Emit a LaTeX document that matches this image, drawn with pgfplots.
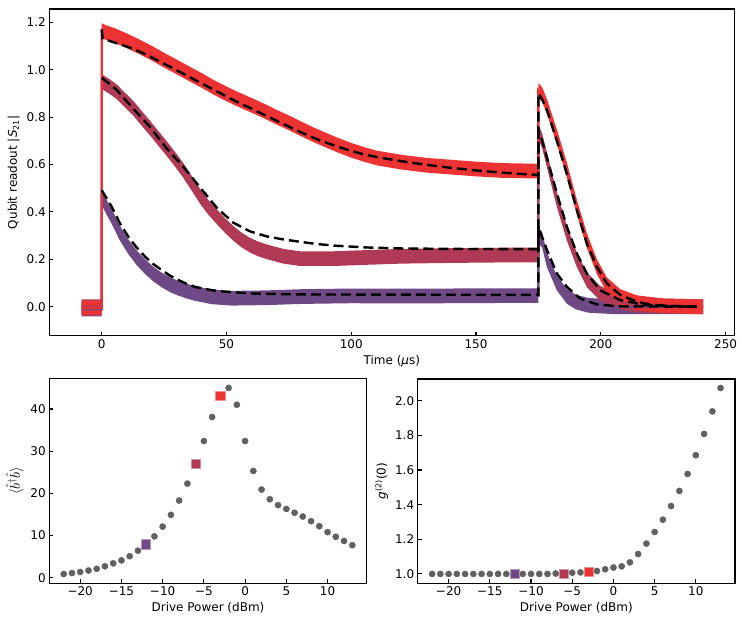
\documentclass[border=0pt]{standalone}
\usepackage{fontspec}
\setmainfont{DejaVu Sans}
\usepackage{pgfplots}
\pgfplotsset{compat=1.18}
\usepackage{pgfplotstable}
\usepgfplotslibrary{fillbetween}

\definecolor{cred}{RGB}{236,50,50}
\definecolor{ccrim}{RGB}{176,58,85}
\definecolor{cpurp}{RGB}{111,73,133}
\definecolor{cgray}{RGB}{96,96,96}

\pgfplotstableread{
t v
-8 -0.005
0 -0.005
0 1.165
2 1.155
5 1.145
10 1.122
15 1.097
20 1.07
25 1.04
30 1.012
35 0.983
40 0.955
45 0.925
50 0.898
55 0.873
60 0.850
65 0.826
70 0.800
75 0.776
80 0.750
85 0.725
90 0.702
95 0.680
100 0.660
105 0.643
110 0.628
120 0.610
130 0.597
140 0.589
150 0.581
160 0.575
175 0.572
175 0.912
176.5 0.895
178.4 0.845
182.4 0.717
186.4 0.577
190.4 0.420
194.4 0.280
198.4 0.170
202.4 0.093
207.8 0.043
214.5 0.017
225 0.004
241 0.0
}\redtab

\pgfplotstableread{
t v
-8 0.0
0 0.0
0 0.950
3 0.930
6 0.907
9 0.875
12.7 0.837
16 0.795
19.4 0.753
22.7 0.710
26 0.668
29.4 0.622
32.7 0.575
36 0.522
39.4 0.466
42.7 0.420
46.1 0.380
49.4 0.343
52.7 0.310
56 0.282
59.4 0.260
62.7 0.244
66.1 0.232
72.8 0.213
79.5 0.203
93 0.203
106 0.208
120 0.213
140 0.216
160 0.218
175 0.218
175 0.738
176.5 0.70
178.4 0.62
182.4 0.452
186.4 0.31
190.4 0.198
194.4 0.114
199.7 0.057
207.8 0.020
215 0.006
241 0.0
}\crimtab

\pgfplotstableread{
t v
-8 -0.01
0 -0.01
0 0.460
0.8 0.443
4 0.380
7.3 0.310
10.7 0.253
14 0.207
17.4 0.169
20.7 0.138
24 0.113
27.4 0.093
30.7 0.078
34 0.066
37.4 0.056
44.1 0.042
52 0.036
66 0.038
80 0.043
100 0.046
120 0.045
140 0.046
160 0.047
175 0.047
175 0.30
176.5 0.28
178.4 0.198
182.4 0.10
186.4 0.044
190 0.02
195 0.006
205 0.0
241 0.0
}\purptab

\pgfplotstableread{
t v
0 1.17
0.4 1.13
5 1.115
10 1.098
15 1.077
20 1.052
25 1.025
30 0.998
35 0.970
40 0.942
45 0.915
50 0.887
55 0.860
60 0.836
65 0.810
70 0.785
75 0.760
80 0.735
85 0.712
90 0.692
95 0.674
100 0.657
105 0.643
110 0.632
120 0.614
130 0.599
140 0.586
150 0.575
160 0.566
170 0.559
175 0.556
175 0.90
176.5 0.875
178.4 0.83
182.4 0.70
186.4 0.56
190.4 0.408
194.4 0.267
198.4 0.169
202.4 0.099
207.8 0.05
214.5 0.021
220 0.009
228 0.003
238.5 0.0
}\redfit

\pgfplotstableread{
t v
0 0.966
6 0.915
12.7 0.835
19.4 0.758
26 0.668
32.7 0.591
37.4 0.530
42 0.470
46.1 0.418
52.7 0.355
59.4 0.318
66.1 0.297
72.8 0.284
79.5 0.274
86 0.265
93 0.258
106.4 0.250
120 0.246
140 0.244
175 0.243
175 0.74
176.5 0.70
178.4 0.63
182.4 0.478
186.4 0.338
190.4 0.225
194.4 0.14
199.7 0.07
207.8 0.028
218 0.007
238.5 0.0
}\crimfit

\pgfplotstableread{
t v
0 0.492
4 0.422
7.3 0.352
10.7 0.295
14 0.250
17.4 0.211
20.7 0.180
24 0.155
27.4 0.131
30.7 0.113
34 0.097
37.4 0.084
44.1 0.070
48.8 0.064
60 0.056
80 0.052
175 0.050
175 0.338
178.4 0.24
182.4 0.14
186.4 0.084
191.7 0.035
198.4 0.01
207 0.002
238.5 0.0
}\purpfit

\pgfplotstableread{
p n
-22 0.87
-21 1.1
-20 1.35
-19 1.7
-18 2.1
-17 2.7
-16 3.4
-15 4.1
-14 5.1
-13 6.4
-12 7.9
-11 9.8
-10 12.1
-9 14.9
-8 18.3
-7 22.3
-6 27.0
-5 32.4
-4 38.1
-3 43.1
-2 45.0
-1 41.0
0 32.4
1 25.3
2 20.9
3 18.6
4 17.2
5 16.3
6 15.4
7 14.5
8 13.4
9 12.2
10 10.8
11 9.7
12 8.7
13 7.7
}\photon

\pgfplotstableread{
p g
-22 1.0
-21 1.0
-20 1.0
-19 1.0
-18 1.0
-17 1.0
-16 1.0
-15 1.0
-14 1.0
-13 1.0
-12 1.0
-11 1.0
-10 1.0
-9 1.0
-8 1.0
-7 1.002
-6 1.003
-5 1.007
-4 1.009
-3 1.012
-2 1.017
-1 1.027
0 1.037
1 1.044
2 1.067
3 1.115
4 1.175
5 1.242
6 1.313
7 1.392
8 1.479
9 1.577
10 1.685
11 1.808
12 1.938
13 2.073
}\gtwo

\pgfplotsset{
  mystyle/.style={
    scale only axis,
    axis line style={line width=1.4pt},
    tick pos=left,
    tick align=inside,
    major tick length=4pt,
    every tick/.style={line width=1.1pt, black},
    ticklabel style={font=\fontsize{12}{14}\selectfont},
    label style={font=\fontsize{12}{14}\selectfont},
    /pgf/number format/assume math mode=true,
    clip=true,
  },
  fitstyle/.style={black, line width=2.4pt, dash pattern=on 10pt off 5pt},
}

\begin{document}
\begin{tikzpicture}
\path (0,0) rectangle (747pt,623pt);

\begin{axis}[mystyle,
  at={(49.3pt,287.3pt)}, anchor=south west,
  width=685pt, height=326.7pt,
  xmin=-21, xmax=253.5, ymin=-0.122, ymax=1.256,
  xtick={0,50,100,150,200,250},
  ytick={0,0.2,0.4,0.6,0.8,1.0,1.2},
  yticklabels={0.0,0.2,0.4,0.6,0.8,1.0,1.2},
  xlabel={Time (\textit{μ}s)},
  ylabel={Qubit readout |\textit{S}\textsubscript{21}|},
]
% purple trace
\addplot[name path=pU, draw=none] table[x=t, y expr=\thisrow{v}+0.031] {\purptab};
\addplot[name path=pL, draw=none] table[x=t, y expr=\thisrow{v}-0.031] {\purptab};
\addplot[fill=cpurp, draw=none] fill between[of=pU and pL];
\addplot[cpurp, line width=2.4pt] table[x=t, y=v] {\purptab};
% crimson trace
\addplot[name path=cU, draw=none] table[x=t, y expr=\thisrow{v}+0.031] {\crimtab};
\addplot[name path=cL, draw=none] table[x=t, y expr=\thisrow{v}-0.031] {\crimtab};
\addplot[fill=ccrim, draw=none] fill between[of=cU and cL];
\addplot[ccrim, line width=2.4pt] table[x=t, y=v] {\crimtab};
% red trace
\addplot[name path=rU, draw=none] table[x=t, y expr=\thisrow{v}+0.031] {\redtab};
\addplot[name path=rL, draw=none] table[x=t, y expr=\thisrow{v}-0.031] {\redtab};
\addplot[fill=cred, draw=none] fill between[of=rU and rL];
\addplot[cred, line width=2.4pt] table[x=t, y=v] {\redtab};
% fits
\addplot[fitstyle] table[x=t, y=v] {\purpfit};
\addplot[fitstyle] table[x=t, y=v] {\crimfit};
\addplot[fitstyle] table[x=t, y=v] {\redfit};
\end{axis}

\begin{axis}[mystyle,
  at={(49.3pt,39.7pt)}, anchor=south west,
  width=317.4pt, height=205pt,
  xmin=-23.75, xmax=14.75, ymin=-1.33, ymax=47.28,
  xtick={-20,-15,-10,-5,0,5,10},
  xticklabels={−20,−15,−10,−5,0,5,10},
  ytick={0,10,20,30,40},
  xlabel={Drive Power (dBm)},
  ylabel={$\langle\hat{b}^{\dagger}\hat{b}\rangle$},
  ylabel style={font=\fontsize{14.5}{17}\selectfont},
]
\addplot[only marks, mark=*, mark size=3.1pt, mark options={fill=cgray, draw=cgray}] table[x=p, y=n] {\photon};
\addplot[only marks, mark=square*, mark size=4.6pt, mark options={fill=cpurp, draw=cpurp!55!white, line width=0.7pt}] coordinates {(-12,7.9)};
\addplot[only marks, mark=square*, mark size=4.6pt, mark options={fill=ccrim, draw=ccrim!55!white, line width=0.7pt}] coordinates {(-6,27.0)};
\addplot[only marks, mark=square*, mark size=4.6pt, mark options={fill=cred, draw=cred!55!white, line width=0.7pt}] coordinates {(-3,43.1)};
\end{axis}

\begin{axis}[mystyle,
  at={(417.7pt,39.7pt)}, anchor=south west,
  width=317.3pt, height=204.3pt,
  xmin=-23.75, xmax=14.75, ymin=0.946, ymax=2.125,
  xtick={-20,-15,-10,-5,0,5,10},
  xticklabels={−20,−15,−10,−5,0,5,10},
  ytick={1.0,1.2,1.4,1.6,1.8,2.0},
  yticklabels={1.0,1.2,1.4,1.6,1.8,2.0},
  xlabel={Drive Power (dBm)},
  ylabel={\textit{g}\textsuperscript{(2)}(0)},
]
\addplot[only marks, mark=*, mark size=3.1pt, mark options={fill=cgray, draw=cgray}] table[x=p, y=g] {\gtwo};
\addplot[only marks, mark=square*, mark size=4.6pt, mark options={fill=cpurp, draw=cpurp!55!white, line width=0.7pt}] coordinates {(-12,1.0)};
\addplot[only marks, mark=square*, mark size=4.6pt, mark options={fill=ccrim, draw=ccrim!55!white, line width=0.7pt}] coordinates {(-6,1.0)};
\addplot[only marks, mark=square*, mark size=4.6pt, mark options={fill=cred, draw=cred!55!white, line width=0.7pt}] coordinates {(-3,1.012)};
\end{axis}
\end{tikzpicture}
\end{document}
